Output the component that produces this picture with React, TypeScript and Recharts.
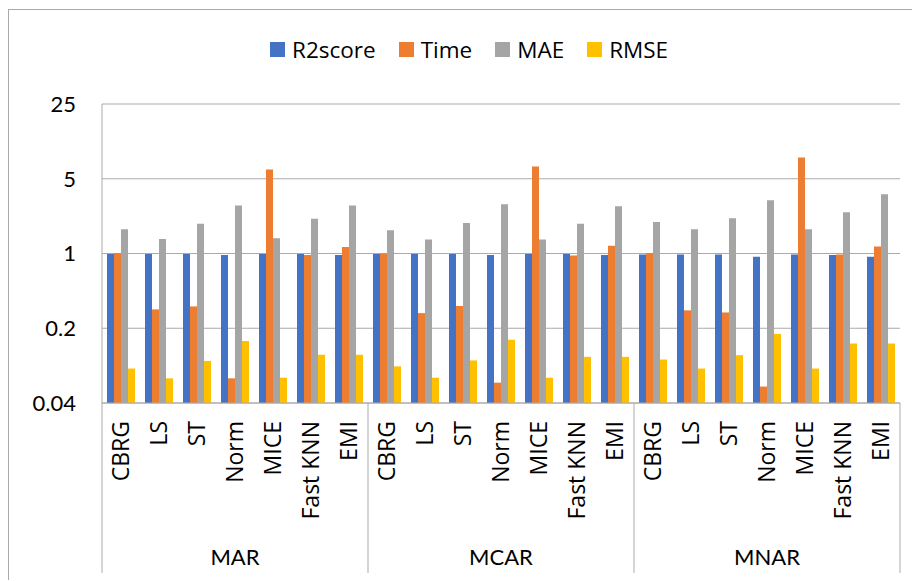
import React from 'react';
import { BarChart, Bar, XAxis, YAxis, CartesianGrid, Legend } from 'recharts';

// categories
const methods = ['CBRG', 'LS', 'ST', 'Norm', 'MICE', 'Fast KNN', 'EMI'];
const groups = ['MAR', 'MCAR', 'MNAR'];

// series values (log5 axis)
const r2score = [0.99, 0.99, 0.99, 0.97, 0.99, 0.99, 0.97, 0.99, 0.99, 0.99, 0.97, 0.99, 0.99, 0.97, 0.98, 0.98, 0.98, 0.93, 0.98, 0.97, 0.93];
const time = [1.01, 0.3, 0.32, 0.068, 6.1, 0.97, 1.15, 1.0, 0.277, 0.323, 0.062, 6.5, 0.96, 1.18, 1.01, 0.294, 0.281, 0.057, 7.9, 0.98, 1.16];
const mae = [1.69, 1.37, 1.9, 2.81, 1.39, 2.11, 2.81, 1.65, 1.35, 1.93, 2.89, 1.35, 1.9, 2.77, 1.97, 1.69, 2.14, 3.15, 1.69, 2.43, 3.58];
const rmse = [0.084, 0.068, 0.099, 0.152, 0.069, 0.113, 0.113, 0.088, 0.069, 0.1, 0.156, 0.069, 0.108, 0.108, 0.102, 0.084, 0.112, 0.177, 0.084, 0.144, 0.144];

const yTicks = [0.04, 0.2, 1, 5, 25];

const series = [
    { key: 'r2score', name: 'R2score', color: '#4472C4' },
    { key: 'time', name: 'Time', color: '#ED7D31' },
    { key: 'mae', name: 'MAE', color: '#A5A5A5' },
    { key: 'rmse', name: 'RMSE', color: '#FFC000' },
];

const data = groups.flatMap((g, gi) =>
    methods.map((m, mi) => {
        const i = gi * methods.length + mi;
        return { id: `${g}-${m}`, name: m, group: g, r2score: r2score[i], time: time[i], mae: mae[i], rmse: rmse[i] };
    })
);

const CHART_W = 911;
const CHART_H = 571;
const MARGIN = { top: 34, right: 20, bottom: 0, left: 0 };
const Y_W = 93;
const BAND = (CHART_W - MARGIN.left - MARGIN.right - Y_W) / data.length;
const GRID = '#ABABAB';
const LABEL_FONT = '"Open Sans", sans-serif';
const NUM_FONT = 'Lato, sans-serif';

const CategoryTick = (props: any) => {
    const { x, y, payload } = props;
    const idx = payload.index;
    const item = data[idx];
    const pos = idx % methods.length;
    return (
        <g>
            <text
                transform={`translate(${x},${y + 18}) rotate(-90)`}
                textAnchor="end"
                dy="0.36em"
                fontSize={23}
                fontFamily={LABEL_FONT}
                fill="#000"
            >
                {item.name}
            </text>
            {pos === 0 && <line x1={x - BAND / 2} x2={x - BAND / 2} y1={y} y2={y + 170} stroke={GRID} />}
            {idx === data.length - 1 && <line x1={x + BAND / 2} x2={x + BAND / 2} y1={y} y2={y + 170} stroke={GRID} />}
            {pos === 3 && (
                <text x={x} y={y + 162} textAnchor="middle" fontSize={22} fontFamily={NUM_FONT} fill="#000">
                    {item.group}
                </text>
            )}
        </g>
    );
};

const LegendContent = () => (
    <div style={{ height: 60, paddingTop: 7, paddingLeft: 261, boxSizing: 'border-box', display: 'flex' }}>
        {series.map((s) => (
            <div key={s.key} style={{ display: 'flex', alignItems: 'center', height: 15, marginRight: 23 }}>
                <span style={{ width: 15, height: 15, background: s.color, display: 'inline-block', marginRight: 7 }} />
                <span style={{ fontFamily: LABEL_FONT, fontSize: 22.5, lineHeight: '15px', color: '#000' }}>{s.name}</span>
            </div>
        ))}
    </div>
);

const App: React.FC = () => {
    return (
        <div
            style={{
                position: 'relative',
                top: 1,
                width: 912,
                height: 572,
                borderLeft: '1px solid #AAAAAA',
                borderTop: '1px solid #AAAAAA',
                boxSizing: 'border-box',
                background: '#fff',
            }}
        >
            <BarChart width={CHART_W} height={CHART_H} data={data} margin={MARGIN} barCategoryGap={5} barGap={0}>
                <CartesianGrid vertical={false} stroke={GRID} />
                <Legend verticalAlign="top" content={<LegendContent />} wrapperStyle={{ top: 25, left: 0, width: CHART_W }} />
                <XAxis
                    dataKey="id"
                    interval={0}
                    height={178}
                    tickLine={false}
                    tickSize={0}
                    tickMargin={0}
                    axisLine={{ stroke: GRID }}
                    tick={<CategoryTick />}
                />
                <YAxis
                    scale="log"
                    domain={[0.04, 25]}
                    ticks={yTicks}
                    allowDataOverflow
                    width={Y_W}
                    tickLine={false}
                    tickMargin={20}
                    axisLine={{ stroke: GRID }}
                    tick={{ fontSize: 22, fontFamily: NUM_FONT, fill: '#000' }}
                />
                {series.map((s) => (
                    <Bar key={s.key} dataKey={s.key} name={s.name} fill={s.color} isAnimationActive={false} />
                ))}
            </BarChart>
        </div>
    );
};

export default App;
